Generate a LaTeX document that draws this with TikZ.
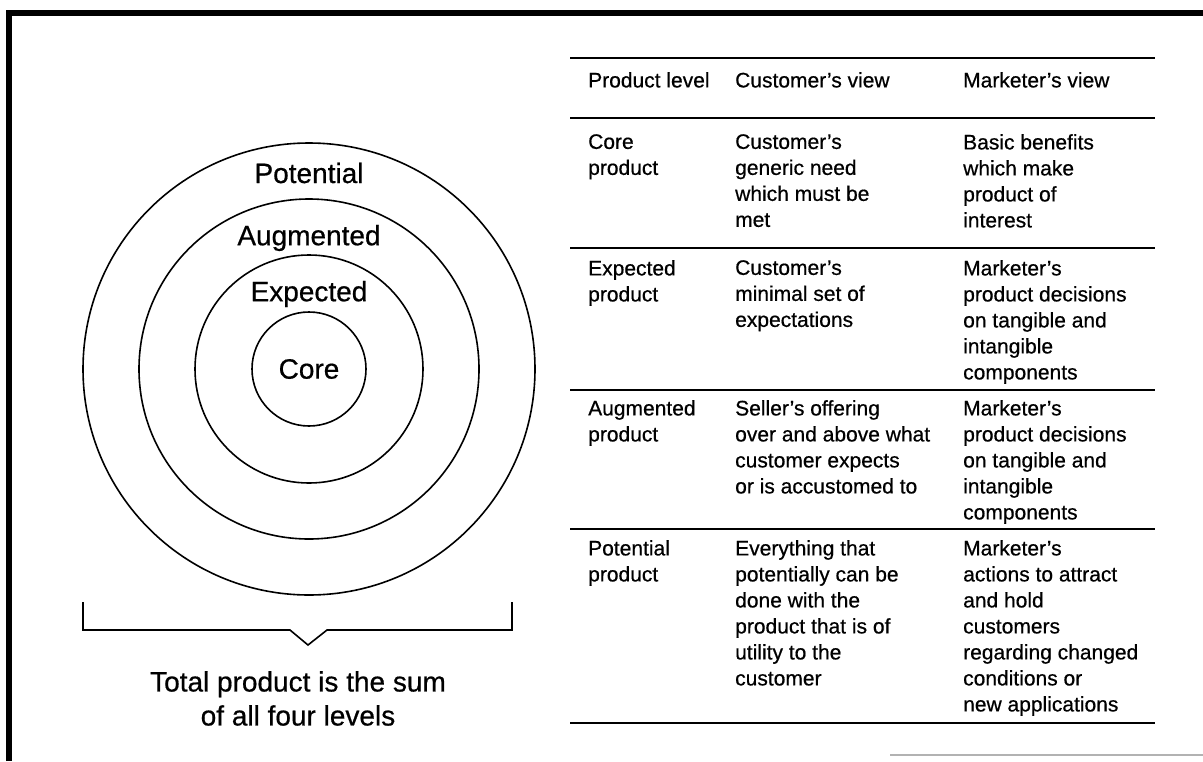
\documentclass[tikz,border=0pt]{standalone}
\usepackage{fontspec}
\setmainfont[FakeBold=0.6]{Liberation Sans}
\usetikzlibrary{positioning}

\begin{document}
\begin{tikzpicture}[x=1pt, y=-1pt,
  every node/.style={font=\fontsize{21}{26}\selectfont, inner sep=0pt},
  cell/.style={anchor=north west, align=left},
  ring/.style={circle, draw, line width=1.6pt},
  ringlabel/.style={font=\fontsize{28}{32}\selectfont},
  rule/.style={line width=2.4pt},
]
\useasboundingbox (0,0) rectangle (1203,761);

% Frame
\draw[line width=6pt] (9,761) -- (9,13) -- (1203,13);
\draw[gray!60, line width=1.2pt] (890,755) -- (1203,755);

% Levels
\node[ring, minimum size=452pt] (potl) at (309,369) {};
\node[ring, minimum size=340pt] (augm) at (309,369) {};
\node[ring, minimum size=228pt] (expd) at (309,369) {};
\node[ring, minimum size=114pt] (core) at (309,369) {};
\node[ringlabel] (lpotl) at (309,173) {Potential};
\node[ringlabel] (laugm) at (309,238) {Augmented};
\node[ringlabel] (lexpd) at (309,294) {Expected};
\node[ringlabel] (lcore) at (309,369) {Core};

% Brace
\coordinate (bl) at (83,602);
\coordinate (br) at (512,602);
\coordinate (tip) at (308,645);
\draw[line width=1.6pt] (bl) -- (83,630) -- (290,630) -- (tip) -- (327,630) -- (512,630) -- (br);
\node[anchor=north, align=center, font=\fontsize{28}{34}\selectfont] (total) at (298,671) {Total product is the sum\\of all four levels};

% Table
\foreach \y in {58,118,248,390,529,723}
  \draw[rule] (570,\y) -- (1155,\y);

\node[cell] (h1) at (588,72) {Product level};
\node[cell] (h2) at (735,72) {Customer's view};
\node[cell] (h3) at (963,72) {Marketer's view};

\node[cell] (c1) at (588,134) {Core\\product};
\node[cell] (c2) at (735,134) {Customer's\\generic need\\which must be\\met};
\node[cell] (c3) at (963,134) {Basic benefits\\which make\\product of\\interest};

\node[cell] (e1) at (588,260) {Expected\\product};
\node[cell] (e2) at (735,260) {Customer's\\minimal set of\\expectations};
\node[cell] (e3) at (963,260) {Marketer's\\product decisions\\on tangible and\\intangible\\components};

\node[cell] (a1) at (588,400) {Augmented\\product};
\node[cell] (a2) at (735,400) {Seller's offering\\over and above what\\customer expects\\or is accustomed to};
\node[cell] (a3) at (963,400) {Marketer's\\product decisions\\on tangible and\\intangible\\components};

\node[cell] (p1) at (588,540) {Potential\\product};
\node[cell] (p2) at (735,540) {Everything that\\potentially can be\\done with the\\product that is of\\utility to the\\customer};
\node[cell] (p3) at (963,540) {Marketer's\\actions to attract\\and hold\\customers\\regarding changed\\conditions or\\new applications};
\end{tikzpicture}
\end{document}
